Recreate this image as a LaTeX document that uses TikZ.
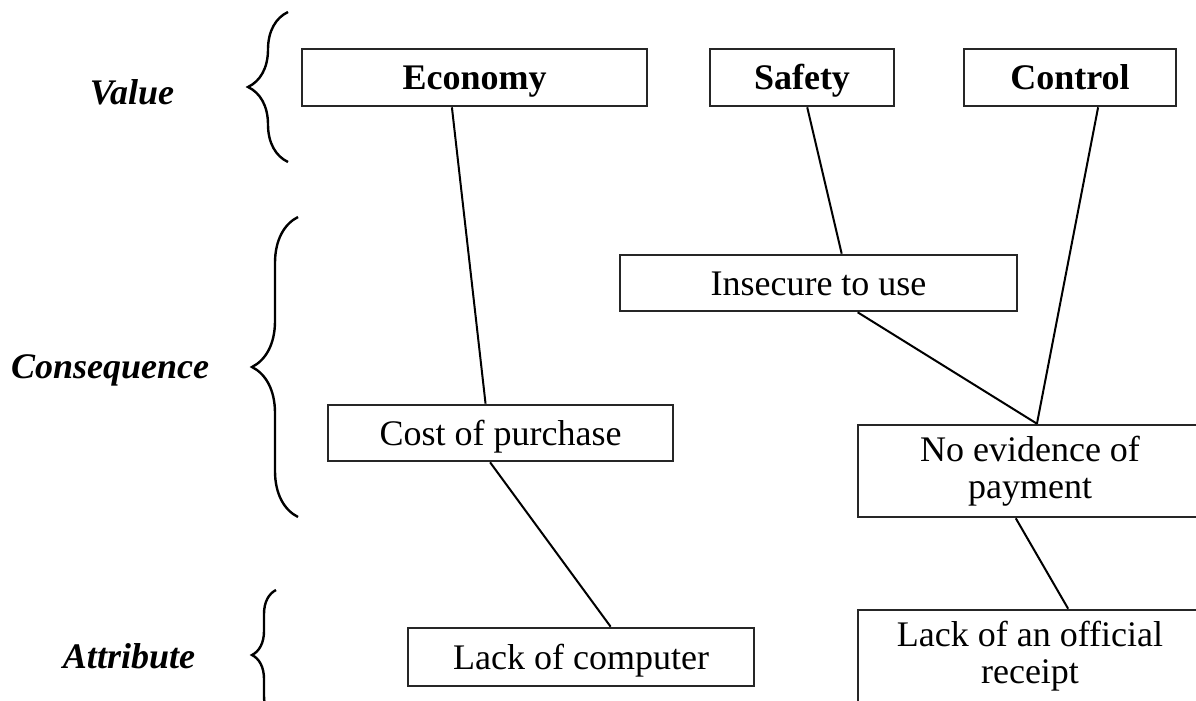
\documentclass[tikz,border=0pt]{standalone}
\usepackage{fontspec}
\setmainfont{Liberation Serif}
\usetikzlibrary{calc,decorations.pathreplacing}
\begin{document}
\begin{tikzpicture}[x=1pt,y=-1pt,font=\fontsize{36}{37}\selectfont,
		box/.style={draw=black!85,line width=2.6pt,inner sep=0pt,align=center},
		one/.style={text height=32pt,text depth=8pt},
		level/.style={font=\fontsize{36}{36}\selectfont\bfseries\itshape},
		link/.style={line width=2pt},
		curly/.style={decorate,decoration={brace,amplitude=#1},line width=2.4pt}]
		\useasboundingbox (0,0) rectangle (1196,701);
		\node[level] (L1) at (132,92) {Value};
		\node[level] (L2) at (110,370) {Consequence};
		\node[level] (L3) at (129,656) {Attribute};
		\draw[curly=40] (288,162) -- (288,12);
		\draw[curly=46] (298,517) -- (298,217);
		\draw[curly=24] (276,720) -- (276,590);
		\node[box,one,minimum width=345pt,minimum height=57pt,font=\fontsize{36}{36}\selectfont\bfseries] (V1) at (474.5,77.5) {Economy};
		\node[box,one,minimum width=184pt,minimum height=57pt,font=\fontsize{36}{36}\selectfont\bfseries] (V2) at (802,77.5) {Safety};
		\node[box,one,minimum width=212pt,minimum height=57pt,font=\fontsize{36}{36}\selectfont\bfseries] (V3) at (1070,77.5) {Control};
		\node[box,one,minimum width=397pt,minimum height=56pt] (C1) at (818.5,283) {Insecure to use};
		\node[box,one,minimum width=345pt,minimum height=56pt] (C2) at (500.5,433) {Cost of purchase};
		\node[box,minimum width=344pt,minimum height=92pt] (C3) at (1030,471) {No evidence of\\payment};
		\node[box,one,minimum width=346pt,minimum height=58pt] (A1) at (581,657) {Lack of computer};
		\node[box,minimum width=344pt,minimum height=92pt] (A2) at (1030,656) {Lack of an official\\receipt};
		\draw[link] ($(V1.south west)!.435!(V1.south east)$) -- ($(C2.north west)!.457!(C2.north east)$);
		\draw[link] ($(V2.south west)!.528!(V2.south east)$) -- ($(C1.north west)!.558!(C1.north east)$);
		\draw[link] ($(V3.south west)!.631!(V3.south east)$) -- ($(C3.north west)!.52!(C3.north east)$);
		\draw[link] ($(C1.south west)!.598!(C1.south east)$) -- ($(C3.north west)!.52!(C3.north east)$);
		\draw[link] ($(C2.south west)!.47!(C2.south east)$) -- ($(A1.north west)!.585!(A1.north east)$);
		\draw[link] ($(C3.south west)!.459!(C3.south east)$) -- ($(A2.north west)!.61!(A2.north east)$);
	\end{tikzpicture}
\end{document}
